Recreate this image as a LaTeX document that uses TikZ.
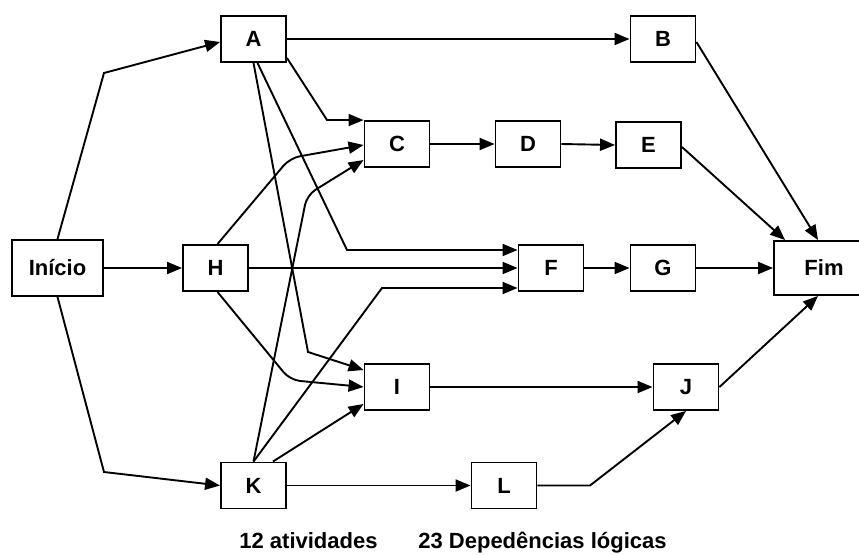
\documentclass[tikz,border=0pt]{standalone}
\usepackage{fontspec}
\setmainfont{Liberation Sans}
\usetikzlibrary{arrows.meta,calc}
\begin{document}
\begin{tikzpicture}[x=1pt,y=-1pt,
  act/.style={draw=black, line width=1.9pt, fill=white, minimum width=65pt,
    minimum height=46pt, inner sep=0pt, font=\fontsize{22}{26}\selectfont\bfseries},
  conn/.style={line width=1.9pt, -{Triangle[length=15pt,width=12pt]}},
  curvedconn/.style={conn, rounded corners=10pt},
  note/.style={anchor=base, inner sep=0pt, font=\fontsize{22}{26}\selectfont\bfseries}]
\useasboundingbox (0,0) rectangle (859,554);

% activities
\node[act, minimum width=91pt, minimum height=56pt] (ini) at (57.5,268) {Início};
\node[act] (A) at (253.5,39) {A};
\node[act] (B) at (663,39) {B};
\node[act] (C) at (397,144) {C};
\node[act] (D) at (528,144) {D};
\node[act] (E) at (648.5,145) {E};
\node[act] (H) at (215.5,268) {H};
\node[act] (F) at (551,268) {F};
\node[act] (G) at (663,268) {G};
\node[act, minimum width=100pt, minimum height=54pt] (fim) at (824,268) {Fim};
\node[act] (I) at (397,387) {I};
\node[act] (J) at (686,387) {J};
\node[act] (K) at (253.5,485.5) {K};
\node[act] (L) at (504,485.5) {L};

% dependencies
\draw[conn] (ini.north) -- (104,73) -- ($(A.west)+(0,3)$);
\draw[conn] (ini.east) -- (H.west);
\draw[conn] (ini.south) -- (104,472) -- (K.west);

\draw[conn] (A.east) -- (B.west);
\draw[conn] ($(A.south east)+(0,-5)$) -- (327,120) -- (C.north west);
\draw[conn] ($(A.south)+(4,0)$) -- (347,250) -- ($(F.west)+(0,-18)$);
\draw[conn] (A.south) -- (308,352) -- ($(I.west)+(0,-17)$);

\draw[curvedconn] ($(H.north)+(2,0)$) -- (290,158) -- ($(C.west)+(0,1)$);
\draw[conn] (H.east) -- (F.west);
\draw[curvedconn] ($(H.south)+(2,0)$) -- (290,380) -- (I.west);

\draw[curvedconn] (K.north) -- (307,195) -- ($(C.west)+(0,16)$);
\draw[conn] (K.north) -- (382,288) -- ($(F.west)+(0,20)$);
\draw[conn] ($(K.north east)+(-14,0)$) -- ($(I.west)+(0,17)$);
\draw[conn] (K.east) -- (L.west);

\draw[conn] (C.east) -- (D.west);
\draw[conn] (D.east) -- (E.west);
\draw[conn] (F.east) -- (G.west);
\draw[conn] (I.east) -- (J.west);
\draw[conn] (L.east) -- (590,485.5) -- (J.south);

\draw[conn] ($(B.east)+(0,3)$) -- ($(fim.north)+(-6,0)$);
\draw[conn] ($(E.east)+(0,2)$) -- ($(fim.north west)+(12,0)$);
\draw[conn] (G.east) -- (fim.west);
\draw[conn] (J.east) -- ($(fim.south)+(-6,0)$);

% totals
\node[note] (nact) at (308.5,548) {12 atividades};
\node[note] (ndep) at (542.5,548) {23 Depedências lógicas};
\end{tikzpicture}
\end{document}
